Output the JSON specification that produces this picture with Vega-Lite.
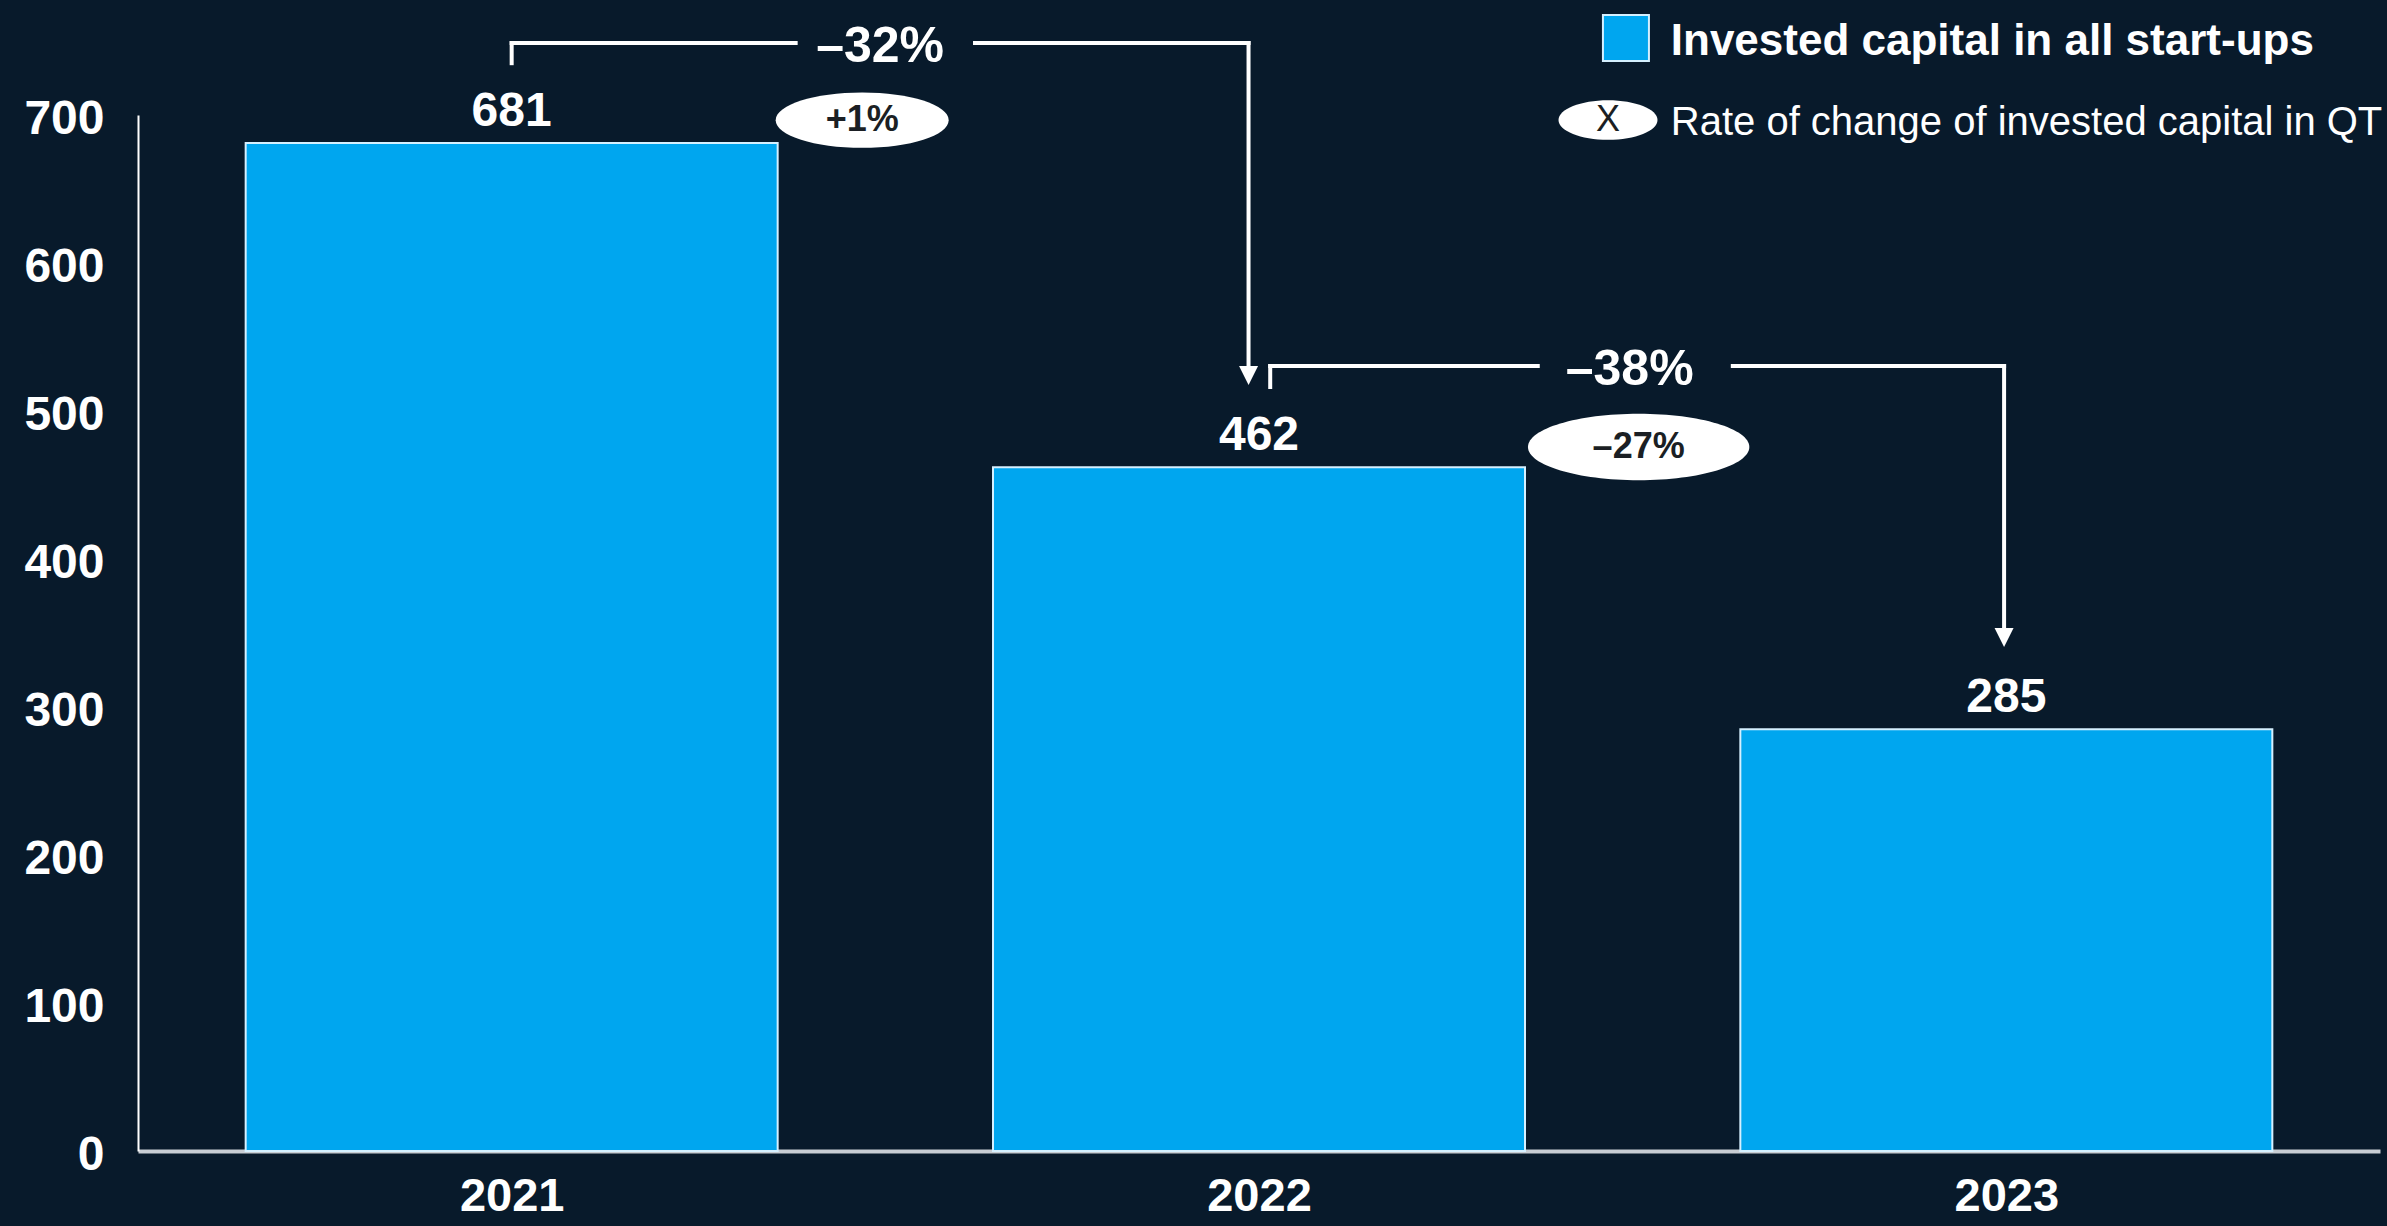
{
  "$schema": "https://vega.github.io/schema/vega-lite/v6.json",
  "width": 2242,
  "height": 1036,
  "autosize": {"type": "none"},
  "padding": {"left": 138, "top": 115, "right": 7, "bottom": 75},
  "background": "#081a2b",
  "config": {
    "view": {"stroke": null},
    "font": "Liberation Sans",
    "axisX": {"grid": false, "ticks": false, "domainColor": "#c8cdd3", "domainWidth": 4, "labelColor": "white", "labelFont": "Liberation Sans", "labelFontSize": 47, "labelFontWeight": "bold", "labelPadding": 22, "labelFlush": false, "labelOverlap": false, "titleColor": "white"},
    "axisY": {"grid": false, "ticks": false, "domainColor": "white", "domainWidth": 2, "labelColor": "white", "labelFont": "Liberation Sans", "labelFontSize": 48, "labelFontWeight": "bold", "labelPadding": 34, "labelOffset": 4, "labelFlush": false, "labelOverlap": false, "titleColor": "white"}
  },
  "datasets": {
    "bars": [
      {"year": 2021, "value": 681},
      {"year": 2022, "value": 462},
      {"year": 2023, "value": 285}
    ],
    "segments": [
      {"x": 2021.0, "y": 735, "x2": 2021.0, "y2": 748.6},
      {"x": 2021.0, "y": 748.6, "x2": 2021.38, "y2": 748.6},
      {"x": 2021.62, "y": 748.6, "x2": 2021.986, "y2": 748.6},
      {"x": 2021.986, "y": 748.6, "x2": 2021.986, "y2": 528},
      {"x": 2022.015, "y": 516.2, "x2": 2022.015, "y2": 530.4},
      {"x": 2022.015, "y": 530.4, "x2": 2022.373, "y2": 530.4},
      {"x": 2022.634, "y": 530.4, "x2": 2022.997, "y2": 530.4},
      {"x": 2022.997, "y": 530.4, "x2": 2022.997, "y2": 352}
    ],
    "arrows": [
      {"x": 2021.986, "y": 524},
      {"x": 2022.997, "y": 347}
    ],
    "changes": [
      {"x": 2021.493, "y": 746, "label": "–32%"},
      {"x": 2022.496, "y": 528, "label": "–38%"}
    ],
    "qt": [
      {"x": 2021.469, "y": 696.5, "label": "+1%"},
      {"x": 2022.508, "y": 475.7, "label": "–27%"}
    ],
    "legendBar": [{"x": 2022.491, "y": 752}],
    "legendBarText": [{"x": 2022.551, "y": 749, "label": "Invested capital in all start-ups"}],
    "legendQt": [{"x": 2022.467, "y": 696.6, "label": "X"}],
    "legendQtText": [{"x": 2022.551, "y": 694.6, "label": "Rate of change of invested capital in QT"}]
  },
  "layer": [
    {
      "data": {"name": "bars"},
      "mark": {"type": "bar", "orient": "vertical", "width": 532, "color": "#00a6ef", "stroke": "#d5f0ff", "strokeWidth": 2},
      "encoding": {
        "x": {
          "field": "year", "type": "quantitative", "title": null,
          "scale": {"domain": [2020.5, 2023.5], "nice": false, "zero": false, "padding": 0},
          "axis": {"values": [2021, 2022, 2023], "format": "d", "title": null}
        },
        "y": {
          "field": "value", "type": "quantitative", "title": null,
          "scale": {"domain": [0, 700], "nice": false},
          "axis": {"values": [0, 100, 200, 300, 400, 500, 600, 700], "title": null}
        }
      }
    },
    {
      "data": {"name": "bars"},
      "mark": {"type": "text", "dy": -17, "baseline": "alphabetic", "align": "center", "fontSize": 48, "fontWeight": "bold", "color": "white"},
      "encoding": {
        "x": {"field": "year", "type": "quantitative", "title": null},
        "y": {"field": "value", "type": "quantitative", "title": null},
        "text": {"field": "value", "type": "quantitative"}
      }
    },
    {
      "data": {"name": "segments"},
      "mark": {"type": "rule", "color": "white", "strokeWidth": 4, "strokeCap": "square"},
      "encoding": {
        "x": {"field": "x", "type": "quantitative", "title": null},
        "y": {"field": "y", "type": "quantitative", "title": null},
        "x2": {"field": "x2"},
        "y2": {"field": "y2"}
      }
    },
    {
      "data": {"name": "arrows"},
      "mark": {"type": "point", "shape": "M-1,-1L1,-1L0,1Z", "size": 361, "filled": true, "color": "white", "opacity": 1, "strokeWidth": 0},
      "encoding": {
        "x": {"field": "x", "type": "quantitative", "title": null},
        "y": {"field": "y", "type": "quantitative", "title": null}
      }
    },
    {
      "data": {"name": "changes"},
      "mark": {"type": "text", "baseline": "middle", "align": "center", "fontSize": 50, "fontWeight": "bold", "color": "white"},
      "encoding": {
        "x": {"field": "x", "type": "quantitative", "title": null},
        "y": {"field": "y", "type": "quantitative", "title": null},
        "text": {"field": "label", "type": "nominal"}
      }
    },
    {
      "data": {"name": "qt"},
      "transform": [{"filter": "datum.label === '+1%'"}],
      "mark": {"type": "point", "shape": "M-1,0A1,0.32,0,1,0,1,0A1,0.32,0,1,0,-1,0Z", "size": 29929, "filled": true, "color": "white", "opacity": 1, "strokeWidth": 0},
      "encoding": {
        "x": {"field": "x", "type": "quantitative", "title": null},
        "y": {"field": "y", "type": "quantitative", "title": null}
      }
    },
    {
      "data": {"name": "qt"},
      "transform": [{"filter": "datum.label !== '+1%'"}],
      "mark": {"type": "point", "shape": "M-1,0A1,0.3,0,1,0,1,0A1,0.3,0,1,0,-1,0Z", "size": 49000, "filled": true, "color": "white", "opacity": 1, "strokeWidth": 0},
      "encoding": {
        "x": {"field": "x", "type": "quantitative", "title": null},
        "y": {"field": "y", "type": "quantitative", "title": null}
      }
    },
    {
      "data": {"name": "qt"},
      "mark": {"type": "text", "baseline": "middle", "align": "center", "fontSize": 36, "fontWeight": "bold", "color": "#1b1f24"},
      "encoding": {
        "x": {"field": "x", "type": "quantitative", "title": null},
        "y": {"field": "y", "type": "quantitative", "title": null},
        "text": {"field": "label", "type": "nominal"}
      }
    },
    {
      "data": {"name": "legendBar"},
      "mark": {"type": "point", "shape": "square", "size": 2116, "filled": true, "color": "#00a6ef", "opacity": 1, "stroke": "#d5f0ff", "strokeWidth": 2},
      "encoding": {
        "x": {"field": "x", "type": "quantitative", "title": null},
        "y": {"field": "y", "type": "quantitative", "title": null}
      }
    },
    {
      "data": {"name": "legendBarText"},
      "mark": {"type": "text", "baseline": "middle", "align": "left", "fontSize": 44, "fontWeight": "bold", "color": "white"},
      "encoding": {
        "x": {"field": "x", "type": "quantitative", "title": null},
        "y": {"field": "y", "type": "quantitative", "title": null},
        "text": {"field": "label", "type": "nominal"}
      }
    },
    {
      "data": {"name": "legendQt"},
      "mark": {"type": "point", "shape": "M-1,0A1,0.4,0,1,0,1,0A1,0.4,0,1,0,-1,0Z", "size": 9801, "filled": true, "color": "white", "opacity": 1, "strokeWidth": 0},
      "encoding": {
        "x": {"field": "x", "type": "quantitative", "title": null},
        "y": {"field": "y", "type": "quantitative", "title": null}
      }
    },
    {
      "data": {"name": "legendQt"},
      "mark": {"type": "text", "baseline": "middle", "align": "center", "fontSize": 36, "color": "#1b1f24"},
      "encoding": {
        "x": {"field": "x", "type": "quantitative", "title": null},
        "y": {"field": "y", "type": "quantitative", "title": null},
        "text": {"field": "label", "type": "nominal"}
      }
    },
    {
      "data": {"name": "legendQtText"},
      "mark": {"type": "text", "baseline": "middle", "align": "left", "fontSize": 40, "color": "white"},
      "encoding": {
        "x": {"field": "x", "type": "quantitative", "title": null},
        "y": {"field": "y", "type": "quantitative", "title": null},
        "text": {"field": "label", "type": "nominal"}
      }
    }
  ]
}
